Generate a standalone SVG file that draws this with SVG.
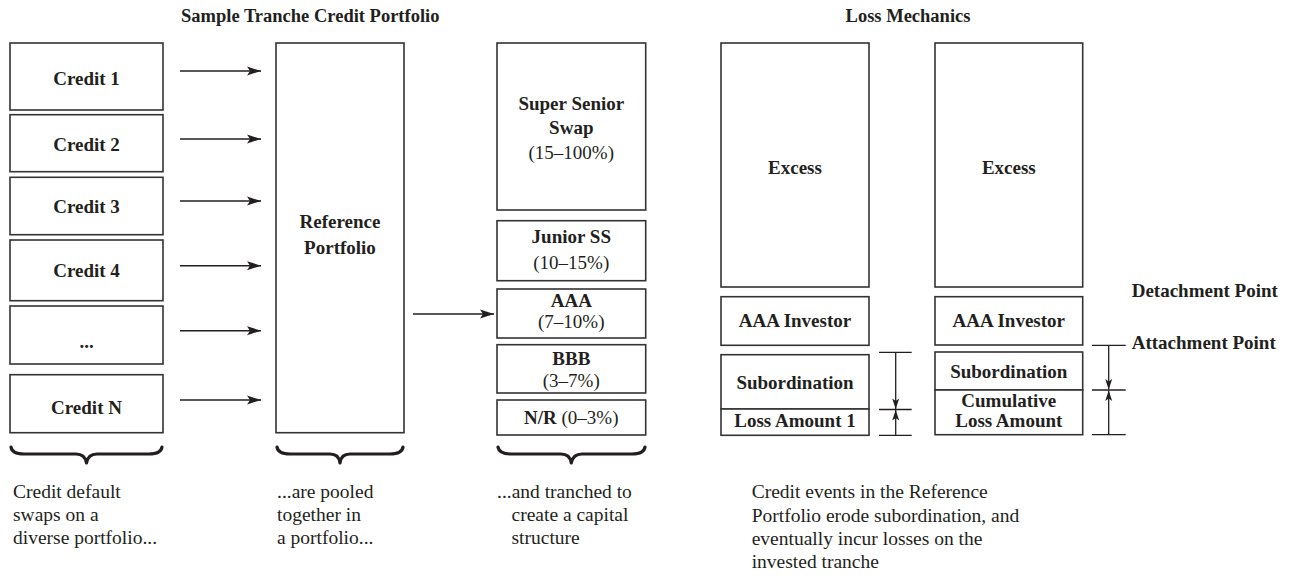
<svg xmlns="http://www.w3.org/2000/svg" width="1296" height="576" viewBox="0 0 1296 576">
<style>
  .box{fill:#fff;stroke:#333;stroke-width:1.6}
  .lbl{font-family:"Liberation Serif","Times New Roman",serif;font-weight:bold;font-size:19px;fill:#231f20;text-anchor:middle}
  .pct{font-family:"Liberation Serif","Times New Roman",serif;font-weight:normal;font-size:19px;fill:#231f20;text-anchor:middle}
  .title{font-family:"Liberation Serif","Times New Roman",serif;font-weight:bold;font-size:18.5px;fill:#231f20}
  .side{font-family:"Liberation Serif","Times New Roman",serif;font-weight:bold;font-size:19px;fill:#231f20}
  .body{font-family:"Liberation Serif","Times New Roman",serif;font-size:19.5px;fill:#231f20}
  .conn{stroke:#231f20;stroke-width:1.4;fill:none}
  .dim{stroke:#231f20;stroke-width:1.3;fill:none}
  .brace{stroke:#231f20;stroke-width:3.2;fill:none;stroke-linecap:round;stroke-linejoin:round}
</style>
<defs>
  <marker id="arr" markerUnits="userSpaceOnUse" markerWidth="16" markerHeight="12" refX="15" refY="5" orient="auto">
    <path d="M15,5 L1,0.5 L4,5 L1,9.5 Z" fill="#231f20"/>
  </marker>
  <marker id="darr" markerUnits="userSpaceOnUse" markerWidth="12" markerHeight="10" refX="11" refY="4" orient="auto">
    <path d="M11,4 L0.5,0.5 L3,4 L0.5,7.5 Z" fill="#231f20"/>
  </marker>
</defs>
<rect width="1296" height="576" fill="#fff"/>

<text class="title" x="181" y="22">Sample Tranche Credit Portfolio</text>
<text class="title" x="908" y="22" text-anchor="middle">Loss Mechanics</text>

<g id="credit1"><rect class="box" x="10" y="43" width="153" height="67"/><text class="lbl" x="86.5" y="85">Credit 1</text></g>
<g id="credit2"><rect class="box" x="10" y="114.7" width="153" height="57"/><text class="lbl" x="86.5" y="150.5">Credit 2</text></g>
<g id="credit3"><rect class="box" x="10" y="177.3" width="153" height="57.4"/><text class="lbl" x="86.5" y="212.7">Credit 3</text></g>
<g id="credit4"><rect class="box" x="10" y="240" width="153" height="60.7"/><text class="lbl" x="86.5" y="276.7">Credit 4</text></g>
<g id="creditdots"><rect class="box" x="10" y="306" width="153" height="58"/><text class="lbl" x="86.5" y="348">...</text></g>
<g id="creditN"><rect class="box" x="10" y="374.7" width="153" height="58"/><text class="lbl" x="86.5" y="414">Credit N</text></g>

<g id="refportfolio"><rect class="box" x="276" y="43" width="128" height="389.7"/><text class="lbl" x="340" y="228">Reference</text><text class="lbl" x="340" y="254">Portfolio</text></g>

<g id="supersenior"><rect class="box" x="497" y="43" width="148.7" height="167"/><text class="lbl" x="571.3" y="110">Super Senior</text><text class="lbl" x="571.3" y="134">Swap</text><text class="pct" x="571.3" y="159">(15–100%)</text></g>
<g id="juniorss"><rect class="box" x="497" y="220.7" width="148.7" height="60"/><text class="lbl" x="571.3" y="243.3">Junior SS</text><text class="pct" x="571.3" y="269.3">(10–15%)</text></g>
<g id="aaa"><rect class="box" x="497" y="289" width="148.7" height="49"/><text class="lbl" x="571.3" y="306.7">AAA</text><text class="pct" x="571.3" y="328.3">(7–10%)</text></g>
<g id="bbb"><rect class="box" x="497" y="344.7" width="148.7" height="48.3"/><text class="lbl" x="571.3" y="365">BBB</text><text class="pct" x="571.3" y="387.3">(3–7%)</text></g>
<g id="nr"><rect class="box" x="497" y="400" width="148.7" height="35"/><text class="lbl" x="571.3" y="424.3"><tspan>N/R</tspan><tspan font-weight="normal"> (0–3%)</tspan></text></g>

<g id="excess1"><rect class="box" x="721" y="43" width="148" height="244"/><text class="lbl" x="795" y="174">Excess</text></g>
<g id="aaainv1"><rect class="box" x="721" y="296.7" width="148" height="48.6"/><text class="lbl" x="795" y="326.7">AAA Investor</text></g>
<g id="sub1"><rect class="box" x="721" y="354.7" width="148" height="54.3"/><text class="lbl" x="795" y="389">Subordination</text></g>
<g id="loss1"><rect class="box" x="721" y="409" width="148" height="26.3"/><text class="lbl" x="795" y="427.3">Loss Amount 1</text></g>

<g id="excess2"><rect class="box" x="935" y="43" width="147.7" height="244"/><text class="lbl" x="1008.8" y="174">Excess</text></g>
<g id="aaainv2"><rect class="box" x="935" y="296.7" width="147.7" height="48.3"/><text class="lbl" x="1008.8" y="326.7">AAA Investor</text></g>
<g id="sub2"><rect class="box" x="935" y="352" width="147.7" height="38"/><text class="lbl" x="1008.8" y="378.3">Subordination</text></g>
<g id="loss2"><rect class="box" x="935" y="390" width="147.7" height="44.7"/><text class="lbl" x="1008.8" y="407.3">Cumulative</text><text class="lbl" x="1008.8" y="426.7">Loss Amount</text></g>

<g id="labels">
  <text class="side" x="1131.7" y="297">Detachment Point</text>
  <text class="side" x="1131.7" y="349">Attachment Point</text>
</g>

<g id="connectors">
  <line class="conn" x1="180" y1="71" x2="261" y2="71" marker-end="url(#arr)"/>
  <line class="conn" x1="180" y1="139" x2="261" y2="139" marker-end="url(#arr)"/>
  <line class="conn" x1="180" y1="201" x2="261" y2="201" marker-end="url(#arr)"/>
  <line class="conn" x1="180" y1="265.7" x2="261" y2="265.7" marker-end="url(#arr)"/>
  <line class="conn" x1="180" y1="330.7" x2="261" y2="330.7" marker-end="url(#arr)"/>
  <line class="conn" x1="180" y1="400" x2="261" y2="400" marker-end="url(#arr)"/>
  <line class="conn" x1="413" y1="314" x2="494" y2="314" marker-end="url(#arr)"/>
</g>

<g id="dimensions">
  <line class="dim" x1="879" y1="352.3" x2="911.7" y2="352.3"/>
  <line class="dim" x1="879" y1="409.5" x2="911.7" y2="409.5"/>
  <line class="dim" x1="879" y1="435.3" x2="911.7" y2="435.3"/>
  <line class="dim" x1="895.7" y1="352.3" x2="895.7" y2="409" marker-end="url(#darr)"/>
  <line class="dim" x1="895.7" y1="435.3" x2="895.7" y2="410" marker-end="url(#darr)"/>
  <line class="dim" x1="1092" y1="345.3" x2="1125.7" y2="345.3"/>
  <line class="dim" x1="1092" y1="390" x2="1125.7" y2="390"/>
  <line class="dim" x1="1092" y1="434.7" x2="1125.7" y2="434.7"/>
  <line class="dim" x1="1108.7" y1="345.3" x2="1108.7" y2="389.5" marker-end="url(#darr)"/>
  <line class="dim" x1="1108.7" y1="434.7" x2="1108.7" y2="390.5" marker-end="url(#darr)"/>
</g>

<g id="braces">
  <path class="brace" d="M11,447 Q12,454 24,454 L76,454 Q85,454 86.5,463 Q88,454 97,454 L149,454 Q161,454 162,447"/>
  <path class="brace" d="M277,447 Q278,454 290,454 L330,454 Q339,454 340,463 Q341,454 350,454 L390,454 Q402,454 403,447"/>
  <path class="brace" d="M498,447 Q499,454 511,454 L561,454 Q570,454 571.3,463 Q573,454 582,454 L632,454 Q644,454 645,447"/>
</g>

<g id="captions">
  <text class="body" x="13" y="498">Credit default</text>
  <text class="body" x="13" y="521">swaps on a</text>
  <text class="body" x="13" y="544">diverse portfolio...</text>
  <text class="body" x="277" y="498">...are pooled</text>
  <text class="body" x="277" y="521">together in</text>
  <text class="body" x="277" y="544">a portfolio...</text>
  <text class="body" x="497" y="498">...and tranched to</text>
  <text class="body" x="511.5" y="521">create a capital</text>
  <text class="body" x="511.5" y="544">structure</text>
  <text class="body" x="751.7" y="498">Credit events in the Reference</text>
  <text class="body" x="751.7" y="521.5">Portfolio erode subordination, and</text>
  <text class="body" x="751.7" y="545">eventually incur losses on the</text>
  <text class="body" x="751.7" y="568">invested tranche</text>
</g>
</svg>
